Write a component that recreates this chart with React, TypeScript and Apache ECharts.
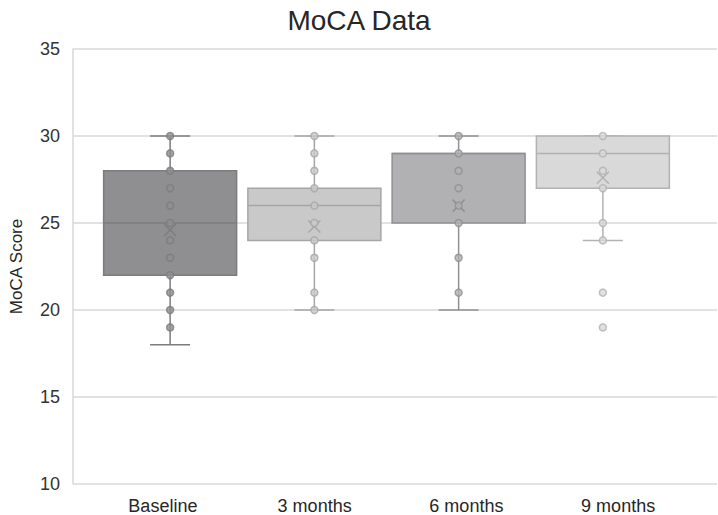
import React, { useEffect, useRef } from "react";
import * as echarts from "echarts";

const categories = ["Baseline", "3 months", "6 months", "9 months"];
const whiskerMin = [18, 20, 20, 24];
const q1 = [22, 24, 25, 27];
const median = [25, 26, 29, 29];
const q3 = [28, 27, 29, 30];
const whiskerMax = [30, 30, 30, 30];
const means = [24.6, 24.8, 26.0, 27.6];
const pointsBaseline = [30, 29, 28, 27, 26, 25, 24, 23, 22, 21, 20, 19];
const points3m = [30, 29, 28, 27, 26, 25, 24, 23, 21, 20];
const points6m = [30, 29, 28, 27, 26, 25, 23, 21];
const points9m = [30, 29, 28, 27, 25, 24, 21, 19];
const yTicks = [10, 15, 20, 25, 30, 35];

const fills = ["#8f8f91", "#c9c9ca", "#b1b1b3", "#d9d9da"];
const strokes = ["#7c7c7e", "#a6a6a7", "#909092", "#b2b2b3"];

export default function App() {
  const ref = useRef<HTMLDivElement>(null);
  useEffect(() => {
    if (!ref.current) return;
    const chart = echarts.init(ref.current, undefined, { renderer: "svg" });
    const allPoints = [pointsBaseline, points3m, points6m, points9m];
    const scatterData: any[] = [];
    allPoints.forEach((pts, i) => {
      pts.forEach((v) =>
        scatterData.push({
          value: [i, v],
          itemStyle: { color: fills[i], borderColor: strokes[i], borderWidth: 1.5 },
        })
      );
    });
    const boxData = categories.map((_, i) => [
      i,
      whiskerMin[i],
      q1[i],
      median[i],
      q3[i],
      whiskerMax[i],
      means[i],
    ]);
    const hiddenY = (gi: number) => ({
      type: "value",
      gridIndex: gi,
      min: yTicks[0],
      max: yTicks[yTicks.length - 1],
      interval: 5,
      show: false,
    });
    const font = "Liberation Sans, Arial, sans-serif";
    chart.setOption({
      animation: false,
      title: {
        text: "MoCA Data",
        left: "center",
        top: 1,
        textStyle: {
          fontFamily: font,
          fontSize: 28,
          fontWeight: "normal",
          color: "#262626",
        },
      },
      grid: [
        { left: 66, right: 1, top: 49, bottom: 31 },
        { left: 98, width: 577, top: 49, bottom: 31 },
        { left: 87, width: 607, top: 49, bottom: 31 },
      ],
      xAxis: [
        { type: "category", gridIndex: 0, data: categories, show: false },
        { type: "category", gridIndex: 1, data: categories, show: false },
        {
          type: "category",
          gridIndex: 2,
          data: categories,
          axisLine: { show: false },
          axisTick: { show: false },
          axisLabel: {
            margin: 14,
            fontSize: 18,
            color: "#262626",
            fontFamily: font,
          },
        },
      ],
      yAxis: [
        {
          type: "value",
          gridIndex: 0,
          min: yTicks[0],
          max: yTicks[yTicks.length - 1],
          interval: 5,
          name: "MoCA Score",
          nameLocation: "middle",
          nameGap: 48,
          nameTextStyle: {
            fontSize: 17,
            color: "#262626",
            fontFamily: font,
          },
          axisLine: { show: true, lineStyle: { color: "#d9d9d9", width: 1.5 } },
          axisTick: { show: false },
          splitLine: { show: true, lineStyle: { color: "#d9d9d9", width: 1.5 } },
          axisLabel: {
            margin: 13,
            fontSize: 18,
            color: "#333333",
            fontFamily: font,
          },
        },
        hiddenY(1),
        hiddenY(2),
      ],
      series: [
        {
          type: "custom",
          xAxisIndex: 1,
          yAxisIndex: 1,
          z: 2,
          data: boxData,
          renderItem: (params: any, api: any) => {
            const idx = params.dataIndex;
            const x = api.value(0);
            const cx = api.coord([x, 0])[0];
            const yMin = api.coord([x, api.value(1)])[1];
            const yQ1 = api.coord([x, api.value(2)])[1];
            const yMed = api.coord([x, api.value(3)])[1];
            const yQ3 = api.coord([x, api.value(4)])[1];
            const yMax = api.coord([x, api.value(5)])[1];
            const yMean = api.coord([x, api.value(6)])[1];
            const band = api.size([1, 0])[0];
            const bw = band * 0.922;
            const cap = 20;
            const xs = 6;
            const stroke = strokes[idx];
            const ls = { stroke, lineWidth: 1.5 };
            return {
              type: "group",
              children: [
                { type: "line", shape: { x1: cx, y1: yMax, x2: cx, y2: yQ3 }, style: ls },
                { type: "line", shape: { x1: cx, y1: yQ1, x2: cx, y2: yMin }, style: ls },
                { type: "line", shape: { x1: cx - cap, y1: yMax, x2: cx + cap, y2: yMax }, style: ls },
                { type: "line", shape: { x1: cx - cap, y1: yMin, x2: cx + cap, y2: yMin }, style: ls },
                {
                  type: "rect",
                  shape: { x: cx - bw / 2, y: yQ3, width: bw, height: yQ1 - yQ3 },
                  style: { fill: fills[idx], stroke, lineWidth: 1.5 },
                },
                { type: "line", shape: { x1: cx - bw / 2, y1: yMed, x2: cx + bw / 2, y2: yMed }, style: ls },
                { type: "line", shape: { x1: cx - xs, y1: yMean - xs, x2: cx + xs, y2: yMean + xs }, style: ls },
                { type: "line", shape: { x1: cx - xs, y1: yMean + xs, x2: cx + xs, y2: yMean - xs }, style: ls },
              ],
            };
          },
        },
        {
          type: "scatter",
          xAxisIndex: 1,
          yAxisIndex: 1,
          z: 3,
          symbol: "circle",
          symbolSize: 7,
          data: scatterData,
        },
      ],
    });
    return () => chart.dispose();
  }, []);
  return <div ref={ref} style={{ width: 718, height: 515, position: "absolute", left: 0, top: 0 }} />;
}
